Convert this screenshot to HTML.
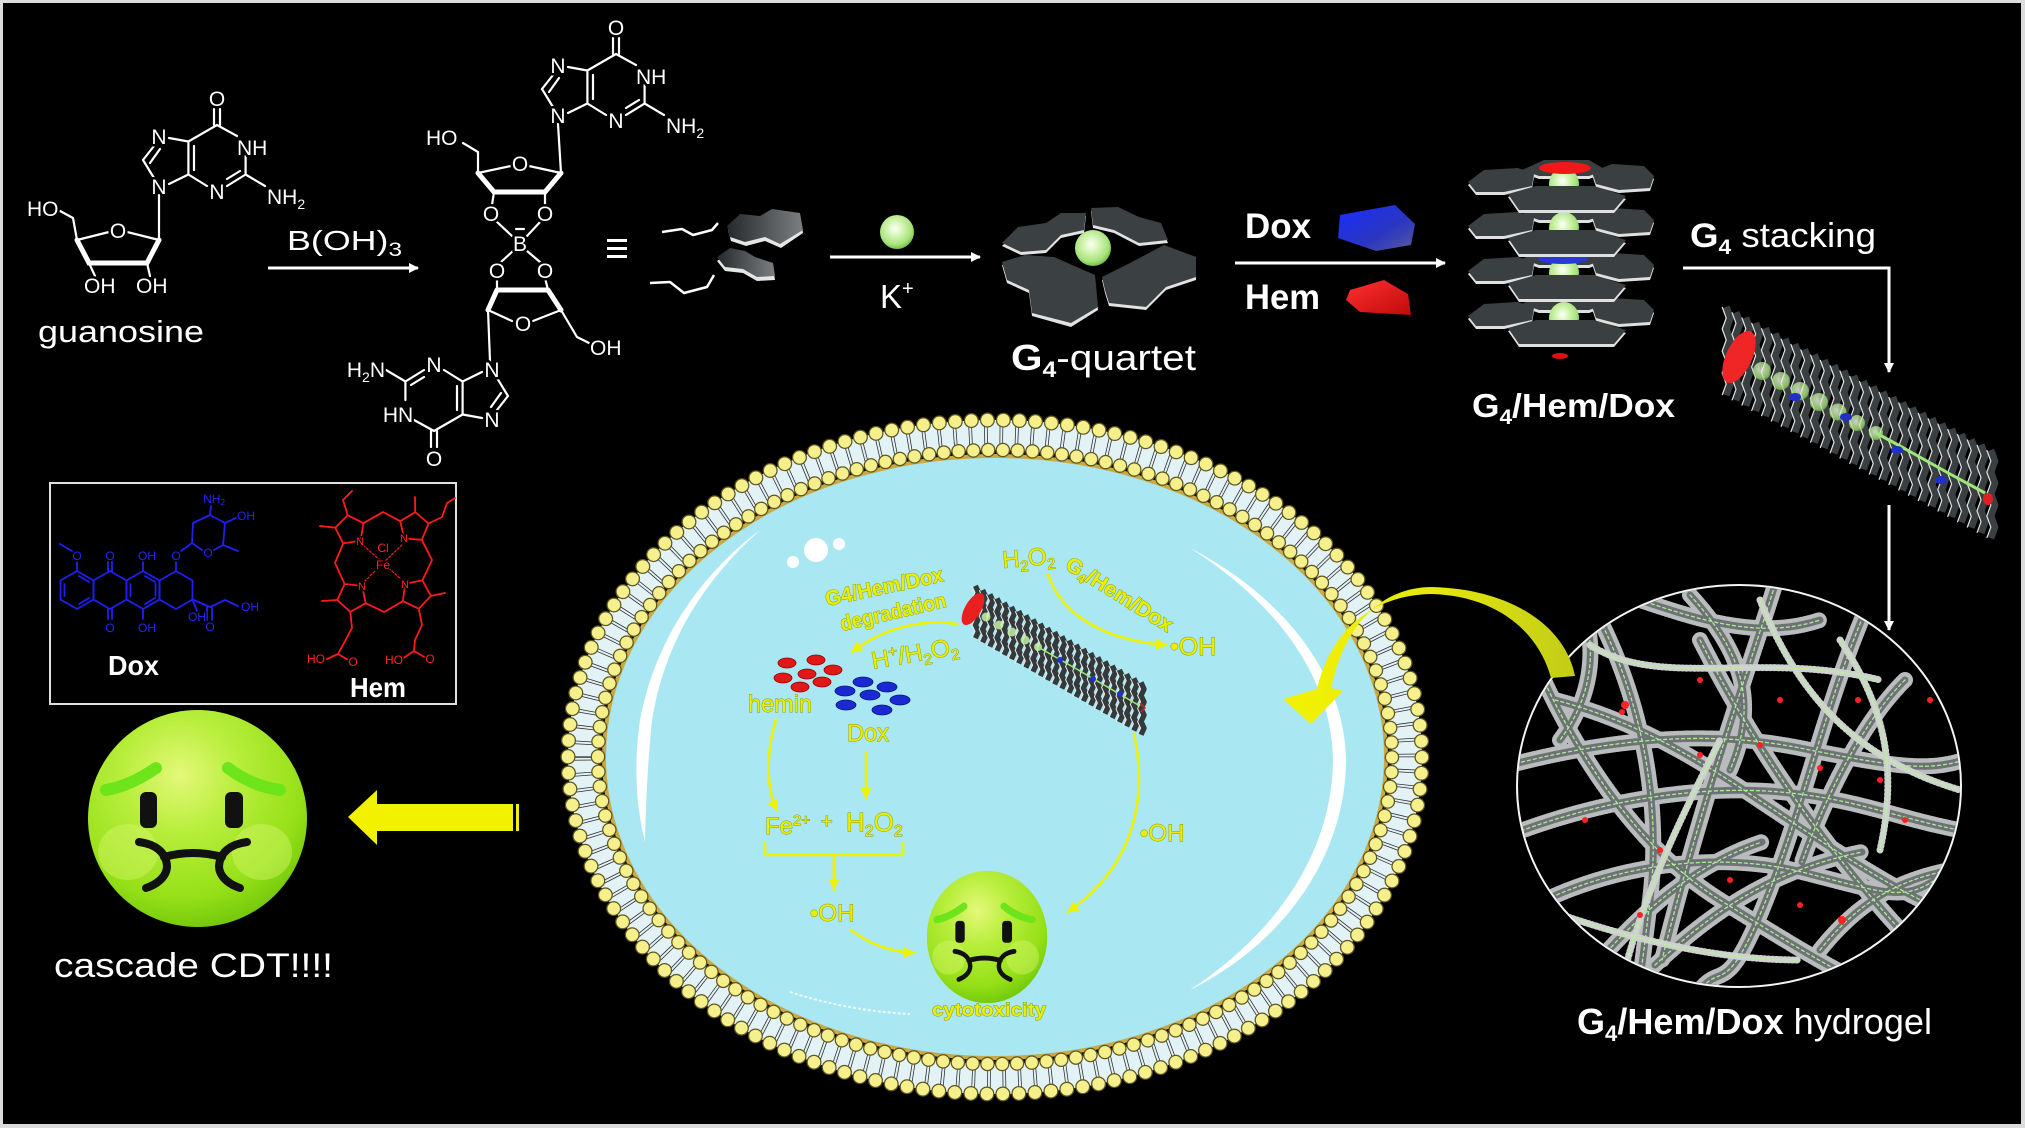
<!DOCTYPE html>
<html><head><meta charset="utf-8"><title>G4/Hem/Dox hydrogel cascade CDT</title>
<style>
html,body{margin:0;padding:0;background:#dcdcdc;overflow:hidden}
svg{display:block}
text{font-family:"Liberation Sans",Arial,sans-serif}
.t{fill:#fff}
.lb{fill:#fff;stroke:#000;stroke-width:5px;paint-order:stroke;stroke-linejoin:round;font-size:21px}
.yt{fill:#e8f000;stroke:#8a9400;stroke-width:0.9px;paint-order:stroke}
.bl{fill:#2424ff;stroke:#000;stroke-width:3px;paint-order:stroke;font-size:12px}
.rl{fill:#ff2020;stroke:#000;stroke-width:3px;paint-order:stroke;font-size:12px}
</style></head><body>
<svg width="2025" height="1128" viewBox="0 0 2025 1128" xmlns="http://www.w3.org/2000/svg" xmlns:xlink="http://www.w3.org/1999/xlink">
<defs>
 <marker id="aw" viewBox="0 0 10 10" refX="9" refY="5" markerWidth="12" markerHeight="10" markerUnits="userSpaceOnUse" orient="auto"><path d="M0,0 L10,5 L0,10 Z" fill="#fff"/></marker>
 <marker id="ay" viewBox="0 0 10 10" refX="9" refY="5" markerWidth="13" markerHeight="11" markerUnits="userSpaceOnUse" orient="auto"><path d="M0,0 L10,5 L0,10 Z" fill="#eef200"/></marker>
 <radialGradient id="gs" cx="0.45" cy="0.4" r="0.6"><stop offset="0" stop-color="#ffffff"/><stop offset="0.3" stop-color="#dcf8c0"/><stop offset="0.8" stop-color="#a6e27a"/><stop offset="1" stop-color="#74c048"/></radialGradient>
 <radialGradient id="fg" cx="0.42" cy="0.3" r="0.75"><stop offset="0" stop-color="#e4f87a"/><stop offset="0.35" stop-color="#b8ee3c"/><stop offset="0.75" stop-color="#96e018"/><stop offset="1" stop-color="#6cc408"/></radialGradient>
 <linearGradient id="hx" x1="0" y1="0" x2="1" y2="0"><stop offset="0" stop-color="#25292b"/><stop offset="1" stop-color="#7b7f81"/></linearGradient>
 <linearGradient id="ya" x1="1290" y1="0" x2="1575" y2="0" gradientUnits="userSpaceOnUse"><stop offset="0" stop-color="#f2f200"/><stop offset="0.5" stop-color="#e4e80c"/><stop offset="1" stop-color="#c2cc18"/></linearGradient>
 <linearGradient id="bg" x1="0" y1="0" x2="1" y2="1"><stop offset="0" stop-color="#1a2cff"/><stop offset="0.6" stop-color="#2a36c0"/><stop offset="1" stop-color="#5a5aa0"/></linearGradient>
 <linearGradient id="rg" x1="0" y1="0" x2="1" y2="1"><stop offset="0" stop-color="#ff3030"/><stop offset="1" stop-color="#c00a0a"/></linearGradient>
 <clipPath id="hc"><ellipse cx="1739" cy="786" rx="221" ry="200"/></clipPath>
 <g id="fib">
  <path d="M1510,765 C1600,742 1700,728 1800,748 S1930,772 1970,758"/>
  <path d="M1540,672 C1580,760 1640,850 1720,900 S1850,980 1890,995"/>
  <path d="M1510,835 C1600,800 1700,785 1780,792 S1900,820 1970,832"/>
  <path d="M1600,620 C1640,700 1662,800 1650,900 S1640,980 1632,1000"/>
  <path d="M1690,595 C1740,650 1760,700 1730,770"/>
  <path d="M1775,585 C1745,680 1702,800 1662,960"/>
  <path d="M1870,600 C1826,700 1806,800 1766,900 S1722,962 1700,990"/>
  <path d="M1905,680 C1862,722 1824,800 1802,862"/>
  <path d="M1535,905 C1620,862 1722,852 1802,872 S1902,902 1935,880"/>
  <path d="M1595,965 C1650,902 1702,862 1762,842"/>
  <path d="M1700,640 C1742,722 1802,822 1902,932"/>
  <path d="M1555,700 C1640,722 1702,762 1762,802 S1882,882 1925,902"/>
  <path d="M1655,965 C1702,922 1762,872 1862,852"/>
  <path d="M1580,600 C1600,650 1590,700 1560,740"/>
  <path d="M1820,950 C1860,900 1900,880 1950,870"/>
  <path d="M1640,600 C1700,620 1760,640 1820,620"/>
 </g>
 <g id="thn">
  <path d="M1590,645 C1660,690 1760,650 1880,680"/>
  <path d="M1620,990 C1640,900 1680,820 1720,740"/>
  <path d="M1760,600 C1800,700 1860,760 1960,790"/>
  <path d="M1520,900 C1600,930 1700,960 1800,960"/>
  <path d="M1840,640 C1880,700 1900,760 1880,850"/>
 </g>
 <g id="lp">
  <path d="M-96,-2 L-80,-14 L-46,-16 L-30,-10 L-32,2 L-60,8 L-88,8 Z"/>
  <path d="M28,-12 L48,-20 L80,-18 L90,-8 L86,4 L55,6 L32,0 Z"/>
  <path d="M-42,-14 L-20,-24 L25,-24 L42,-14 L25,-8 L-25,-8 Z"/>
 </g>
 <path id="fp" d="M-56,10 L-28,2 L30,2 L62,12 L50,26 L-45,26 Z"/>
 <path id="gb" d="M-3,11 V27 M3,11 V27 M0,27 L20,38 M28.6,58 V76.5 M28.6,76.5 L10,88 M23,73 L10,81 M-10,88 L-28.6,76.5 M-28.6,76.5 V43.5 M-23,72 V48 M-28.6,43.5 L0,27 M-28.6,43.5 L-48,40 M-63,48 L-74,62 M-57,51 L-67,65 M-74,62 L-63,80 M-48,86 L-28.6,76.5 M28.6,76.5 L48,88"/>
 <path id="bigpl" d="M1726,307 l4,11-4,11 4,11-4,11 4,11-4,11 4,11-4,11m9.8-82.7 l4,11-4,11 4,11-4,11 4,11-4,11 4,11-4,11m9.8-82.7 l4,11-4,11 4,11-4,11 4,11-4,11 4,11-4,11m9.8-82.7 l4,11-4,11 4,11-4,11 4,11-4,11 4,11-4,11m9.8-82.7 l4,11-4,11 4,11-4,11 4,11-4,11 4,11-4,11m9.8-82.7 l4,11-4,11 4,11-4,11 4,11-4,11 4,11-4,11m9.8-82.7 l4,11-4,11 4,11-4,11 4,11-4,11 4,11-4,11m9.8-82.7 l4,11-4,11 4,11-4,11 4,11-4,11 4,11-4,11m9.8-82.7 l4,11-4,11 4,11-4,11 4,11-4,11 4,11-4,11m9.8-82.7 l4,11-4,11 4,11-4,11 4,11-4,11 4,11-4,11m9.8-82.7 l4,11-4,11 4,11-4,11 4,11-4,11 4,11-4,11m9.8-82.7 l4,11-4,11 4,11-4,11 4,11-4,11 4,11-4,11m9.8-82.7 l4,11-4,11 4,11-4,11 4,11-4,11 4,11-4,11m9.8-82.7 l4,11-4,11 4,11-4,11 4,11-4,11 4,11-4,11m9.8-82.7 l4,11-4,11 4,11-4,11 4,11-4,11 4,11-4,11m9.8-82.7 l4,11-4,11 4,11-4,11 4,11-4,11 4,11-4,11m9.8-82.7 l4,11-4,11 4,11-4,11 4,11-4,11 4,11-4,11m9.8-82.7 l4,11-4,11 4,11-4,11 4,11-4,11 4,11-4,11m9.8-82.7 l4,11-4,11 4,11-4,11 4,11-4,11 4,11-4,11m9.8-82.7 l4,11-4,11 4,11-4,11 4,11-4,11 4,11-4,11m9.8-82.7 l4,11-4,11 4,11-4,11 4,11-4,11 4,11-4,11m9.8-82.7 l4,11-4,11 4,11-4,11 4,11-4,11 4,11-4,11m9.8-82.7 l4,11-4,11 4,11-4,11 4,11-4,11 4,11-4,11m9.8-82.7 l4,11-4,11 4,11-4,11 4,11-4,11 4,11-4,11m9.8-82.7 l4,11-4,11 4,11-4,11 4,11-4,11 4,11-4,11m9.8-82.7 l4,11-4,11 4,11-4,11 4,11-4,11 4,11-4,11m9.8-82.7 l4,11-4,11 4,11-4,11 4,11-4,11 4,11-4,11m9.8-82.7 l4,11-4,11 4,11-4,11 4,11-4,11 4,11-4,11"/>
 <path id="smpl" d="M975,586 l3,6.5-3,6.5 3,6.5-3,6.5 3,6.5-3,6.5 3,6.5-3,6.5m7.2-47.8 l3,6.5-3,6.5 3,6.5-3,6.5 3,6.5-3,6.5 3,6.5-3,6.5m7.2-47.8 l3,6.5-3,6.5 3,6.5-3,6.5 3,6.5-3,6.5 3,6.5-3,6.5m7.2-47.8 l3,6.5-3,6.5 3,6.5-3,6.5 3,6.5-3,6.5 3,6.5-3,6.5m7.2-47.8 l3,6.5-3,6.5 3,6.5-3,6.5 3,6.5-3,6.5 3,6.5-3,6.5m7.2-47.8 l3,6.5-3,6.5 3,6.5-3,6.5 3,6.5-3,6.5 3,6.5-3,6.5m7.2-47.8 l3,6.5-3,6.5 3,6.5-3,6.5 3,6.5-3,6.5 3,6.5-3,6.5m7.2-47.8 l3,6.5-3,6.5 3,6.5-3,6.5 3,6.5-3,6.5 3,6.5-3,6.5m7.2-47.8 l3,6.5-3,6.5 3,6.5-3,6.5 3,6.5-3,6.5 3,6.5-3,6.5m7.2-47.8 l3,6.5-3,6.5 3,6.5-3,6.5 3,6.5-3,6.5 3,6.5-3,6.5m7.2-47.8 l3,6.5-3,6.5 3,6.5-3,6.5 3,6.5-3,6.5 3,6.5-3,6.5m7.2-47.8 l3,6.5-3,6.5 3,6.5-3,6.5 3,6.5-3,6.5 3,6.5-3,6.5m7.2-47.8 l3,6.5-3,6.5 3,6.5-3,6.5 3,6.5-3,6.5 3,6.5-3,6.5m7.2-47.8 l3,6.5-3,6.5 3,6.5-3,6.5 3,6.5-3,6.5 3,6.5-3,6.5m7.2-47.8 l3,6.5-3,6.5 3,6.5-3,6.5 3,6.5-3,6.5 3,6.5-3,6.5m7.2-47.8 l3,6.5-3,6.5 3,6.5-3,6.5 3,6.5-3,6.5 3,6.5-3,6.5m7.2-47.8 l3,6.5-3,6.5 3,6.5-3,6.5 3,6.5-3,6.5 3,6.5-3,6.5m7.2-47.8 l3,6.5-3,6.5 3,6.5-3,6.5 3,6.5-3,6.5 3,6.5-3,6.5m7.2-47.8 l3,6.5-3,6.5 3,6.5-3,6.5 3,6.5-3,6.5 3,6.5-3,6.5m7.2-47.8 l3,6.5-3,6.5 3,6.5-3,6.5 3,6.5-3,6.5 3,6.5-3,6.5m7.2-47.8 l3,6.5-3,6.5 3,6.5-3,6.5 3,6.5-3,6.5 3,6.5-3,6.5m7.2-47.8 l3,6.5-3,6.5 3,6.5-3,6.5 3,6.5-3,6.5 3,6.5-3,6.5m7.2-47.8 l3,6.5-3,6.5 3,6.5-3,6.5 3,6.5-3,6.5 3,6.5-3,6.5m7.2-47.8 l3,6.5-3,6.5 3,6.5-3,6.5 3,6.5-3,6.5 3,6.5-3,6.5"/>
</defs>

<rect x="0" y="0" width="2025" height="1128" fill="#dcdcdc"/>
<rect x="3" y="3" width="2018" height="1121" fill="#000"/>

<!-- ===== guanosine ===== -->
<g stroke="#fff" stroke-width="2.2" fill="none" stroke-linecap="round">
 <use href="#gb" xlink:href="#gb" transform="translate(217,98)"/>
 <path d="M159,195 L159,240 M159,240 L127,232 M109,232 L77,240 M73,218 L77,240 M73,218 L60,211 M89,263 L95,276 M147,263 L150,276"/>
 <path d="M77,240 L89,263 L147,263 L159,240" stroke-width="5"/>
</g>
<g class="lb">
 <g transform="translate(217,98)">
  <text x="0" y="8" text-anchor="middle">O</text>
  <text x="20" y="57">NH</text>
  <text x="0" y="101" text-anchor="middle">N</text>
  <text x="50" y="106">NH<tspan font-size="14" dy="5">2</tspan></text>
  <text x="-58" y="46" text-anchor="middle">N</text>
  <text x="-58" y="96" text-anchor="middle">N</text>
 </g>
 <text x="118" y="238" text-anchor="middle">O</text>
 <text x="27" y="216">HO</text>
 <text x="84" y="293">OH</text>
 <text x="136" y="293">OH</text>
</g>
<text class="t" x="38" y="342" font-size="31" textLength="166" lengthAdjust="spacingAndGlyphs">guanosine</text>

<!-- B(OH)3 arrow -->
<text class="t" x="287" y="250" font-size="28" textLength="115" lengthAdjust="spacingAndGlyphs">B(OH)<tspan font-size="19" dy="6">3</tspan></text>
<line x1="268" y1="268" x2="418" y2="268" stroke="#fff" stroke-width="3" marker-end="url(#aw)"/>

<!-- ===== borate diester ===== -->
<g stroke="#fff" stroke-width="2.2" fill="none" stroke-linecap="round">
 <use href="#gb" xlink:href="#gb" transform="translate(616,27)"/>
 <use href="#gb" xlink:href="#gb" transform="translate(434,458) rotate(180)"/>
 <path d="M558,124 L561,173 M561,173 L529,166 M511,166 L478,173 M478,173 L478,152 L463,143 M494,192 L492,205 M545,192 L545,205 M496,221 L512,236 M541,221 L527,236 M513,251 L501,262 M527,251 L540,262 M497,278 L497,290 M545,278 L548,290 M488,310 L512,321 M533,321 L561,310 M561,310 L577,337 L589,343 M488,310 L490,361 M516,229 L524,229"/>
 <path d="M478,173 L494,192 L545,192 L561,173 M497,290 L548,290 M497,290 L488,310 M548,290 L561,310" stroke-width="5"/>
</g>
<g class="lb">
 <g transform="translate(616,27)">
  <text x="0" y="8" text-anchor="middle">O</text>
  <text x="20" y="57">NH</text>
  <text x="0" y="101" text-anchor="middle">N</text>
  <text x="50" y="106">NH<tspan font-size="14" dy="5">2</tspan></text>
  <text x="-58" y="46" text-anchor="middle">N</text>
  <text x="-58" y="96" text-anchor="middle">N</text>
 </g>
 <text x="520" y="171" text-anchor="middle">O</text>
 <text x="426" y="145">HO</text>
 <text x="491" y="221" text-anchor="middle">O</text>
 <text x="545" y="221" text-anchor="middle">O</text>
 <text x="520" y="251" text-anchor="middle">B</text>
 <text x="497" y="278" text-anchor="middle">O</text>
 <text x="545" y="278" text-anchor="middle">O</text>
 <text x="523" y="331" text-anchor="middle">O</text>
 <text x="590" y="355">OH</text>
 <text x="434" y="466" text-anchor="middle">O</text>
 <text x="398" y="422" text-anchor="middle">HN</text>
 <text x="434" y="372" text-anchor="middle">N</text>
 <text x="385" y="377" text-anchor="end">H<tspan font-size="14" dy="5">2</tspan><tspan dy="-5">N</tspan></text>
 <text x="492" y="427" text-anchor="middle">N</text>
 <text x="492" y="377" text-anchor="middle">N</text>
</g>

<!-- ≡ and guanosine symbols -->
<g fill="#fff"><rect x="607" y="239" width="20" height="3"/><rect x="607" y="247" width="20" height="3"/><rect x="607" y="255" width="20" height="3"/></g>
<g fill="none" stroke="#fff" stroke-width="2.5" stroke-linejoin="round">
 <polyline points="662,232 682,229 693,235 712,230 718,223"/>
 <polyline points="650,283 670,282 684,293 707,287 714,275"/>
</g>
<path d="M728,230 L741,217 L760,218 L773,211 L800,215 L803,233 L781,248 L765,241 L746,246 L731,241 Z" fill="#e6e6e6"/>
<path d="M727,226 L740,214 L760,216 L772,209 L800,213 L803,230 L780,244 L765,237 L745,242 L730,237 Z" fill="url(#hx)"/>
<path d="M717,261 L730,252 L745,255 L755,261 L773,267 L775,280 L757,281 L743,273 L725,271 Z" fill="#e6e6e6"/>
<path d="M717,257 L730,248 L745,251 L755,257 L773,263 L775,276 L757,277 L743,269 L725,267 Z" fill="url(#hx)"/>

<!-- K+ -->
<ellipse cx="897" cy="232" rx="17" ry="17" fill="url(#gs)"/>
<line x1="830" y1="257" x2="980" y2="257" stroke="#fff" stroke-width="3" marker-end="url(#aw)"/>
<text class="t" x="880" y="308" font-size="33">K<tspan font-size="20" dy="-13">+</tspan></text>

<!-- ===== G4 quartet ===== -->
<g fill="#e2e2e2">
 <path d="M1002,246 L1018,230 L1046,226 L1061,216 L1086,216 L1084,233 L1061,238 L1046,253 L1021,255 Z"/>
 <path d="M1091,211 L1118,210 L1139,220 L1161,226 L1168,243 L1139,246 L1114,233 L1093,228 Z"/>
 <path d="M1002,265 L1025,258 L1054,260 L1095,278 L1098,310 L1071,327 L1032,316 L1029,293 L1007,283 Z"/>
 <path d="M1102,280 L1130,266 L1164,248 L1196,260 L1196,280 L1166,290 L1146,310 L1109,306 L1105,293 Z"/>
</g>
<g fill="#3b4143">
 <path d="M1002,243 L1018,227 L1046,223 L1061,213 L1086,213 L1084,230 L1061,235 L1046,250 L1021,252 Z"/>
 <path d="M1091,208 L1118,207 L1139,217 L1161,223 L1168,240 L1139,243 L1114,230 L1093,225 Z"/>
 <path d="M1002,262 L1025,255 L1054,257 L1095,275 L1098,307 L1071,323 L1032,313 L1029,290 L1007,280 Z"/>
 <path d="M1102,277 L1130,263 L1164,245 L1196,257 L1196,277 L1166,287 L1146,307 L1109,303 L1105,290 Z"/>
</g>
<ellipse cx="1093" cy="248" rx="18" ry="18" fill="url(#gs)"/>
<text class="t" x="1011" y="370" font-size="36" textLength="185" lengthAdjust="spacingAndGlyphs"><tspan font-weight="bold">G</tspan><tspan font-weight="bold" font-size="22" dy="7">4</tspan><tspan dy="-7">-quartet</tspan></text>

<!-- Dox / Hem arrow -->
<text class="t" x="1245" y="238" font-size="35" font-weight="bold" textLength="66" lengthAdjust="spacingAndGlyphs">Dox</text>
<path d="M1340,215 L1395,205 L1415,224 L1411,245 L1376,251 L1338,238 Z" fill="url(#bg)"/>
<line x1="1235" y1="263" x2="1445" y2="263" stroke="#fff" stroke-width="3" marker-end="url(#aw)"/>
<text class="t" x="1245" y="309" font-size="35" font-weight="bold" textLength="75" lengthAdjust="spacingAndGlyphs">Hem</text>
<path d="M1350,290 L1384,280 L1408,294 L1411,315 L1360,312 L1346,300 Z" fill="url(#rg)"/>

<!-- ===== G4/Hem/Dox stack ===== -->
<g transform="translate(1564,318)"><use href="#lp" xlink:href="#lp" y="3" fill="#e0e0e0"/><use href="#lp" xlink:href="#lp" fill="#3a4042"/><ellipse cx="0" cy="0" rx="15" ry="16" fill="url(#gs)"/><use href="#fp" xlink:href="#fp" y="3" fill="#e0e0e0"/><use href="#fp" xlink:href="#fp" fill="#3a4042"/></g>
<ellipse cx="1560" cy="356" rx="8" ry="3" fill="#e01010"/>
<g transform="translate(1564,273)"><use href="#lp" xlink:href="#lp" y="3" fill="#e0e0e0"/><use href="#lp" xlink:href="#lp" fill="#3a4042"/><ellipse cx="0" cy="0" rx="15" ry="16" fill="url(#gs)"/><ellipse cx="-1" cy="-14" rx="25" ry="5" fill="#2a38d8"/><use href="#fp" xlink:href="#fp" y="3" fill="#e0e0e0"/><use href="#fp" xlink:href="#fp" fill="#3a4042"/></g>
<g transform="translate(1564,228)"><use href="#lp" xlink:href="#lp" y="3" fill="#e0e0e0"/><use href="#lp" xlink:href="#lp" fill="#3a4042"/><ellipse cx="0" cy="0" rx="15" ry="16" fill="url(#gs)"/><use href="#fp" xlink:href="#fp" y="3" fill="#e0e0e0"/><use href="#fp" xlink:href="#fp" fill="#3a4042"/></g>
<g transform="translate(1564,184)"><use href="#lp" xlink:href="#lp" y="3" fill="#e0e0e0"/><use href="#lp" xlink:href="#lp" fill="#3a4042"/><ellipse cx="0" cy="0" rx="15" ry="16" fill="url(#gs)"/><use href="#fp" xlink:href="#fp" y="3" fill="#e0e0e0"/><use href="#fp" xlink:href="#fp" fill="#3a4042"/></g>
<ellipse cx="1565" cy="168" rx="26" ry="6" fill="#f01818"/>
<text class="t" x="1472" y="417" font-size="33" font-weight="bold" textLength="203" lengthAdjust="spacingAndGlyphs">G<tspan font-size="21" dy="7">4</tspan><tspan dy="-7">/Hem/Dox</tspan></text>

<!-- G4 stacking -->
<text class="t" x="1690" y="247" font-size="34" textLength="186" lengthAdjust="spacingAndGlyphs"><tspan font-weight="bold">G</tspan><tspan font-weight="bold" font-size="21" dy="7">4</tspan><tspan dy="-7"> stacking</tspan></text>
<polyline points="1683,268 1889,268 1889,372" fill="none" stroke="#fff" stroke-width="3" marker-end="url(#aw)"/>

<!-- big fiber -->
<g fill="none" stroke-linejoin="round">
 <use href="#bigpl" xlink:href="#bigpl" stroke="#3a4042" stroke-width="7.5"/>
 <use href="#bigpl" xlink:href="#bigpl" x="-3.8" stroke="#e4e4e4" stroke-width="1.2"/>
</g>
<g fill="url(#gs)" opacity="0.75">
 <circle cx="1762" cy="371" r="9"/><circle cx="1781" cy="381" r="9"/><circle cx="1800" cy="391" r="9"/><circle cx="1819" cy="402" r="9"/><circle cx="1838" cy="412" r="8.5"/><circle cx="1857" cy="423" r="8"/><circle cx="1876" cy="433" r="7"/>
</g>
<polyline points="1876,433 1900,446 1925,460 1950,474 1985,493" fill="none" stroke="#9ee878" stroke-width="3"/>
<g fill="#2030c8"><ellipse cx="1795" cy="397" rx="6" ry="4"/><ellipse cx="1846" cy="417" rx="6" ry="4"/><ellipse cx="1897" cy="450" rx="6" ry="4"/><ellipse cx="1941" cy="480" rx="6" ry="4"/></g>
<ellipse cx="1988" cy="499" rx="5" ry="6" fill="#e02020"/>
<ellipse cx="1739" cy="357" rx="13" ry="28" transform="rotate(25 1739 357)" fill="#f02626"/>

<!-- down arrow to hydrogel -->
<line x1="1889" y1="505" x2="1889" y2="630" stroke="#fff" stroke-width="3" marker-end="url(#aw)"/>

<!-- ===== hydrogel ===== -->
<g clip-path="url(#hc)" fill="none" stroke-linecap="round">
 <use href="#fib" xlink:href="#fib" stroke="#b9bcbd" stroke-width="16" stroke-dasharray="1 2.2"/>
 <use href="#fib" xlink:href="#fib" stroke="#6f7274" stroke-width="7"/>
 <use href="#fib" xlink:href="#fib" stroke="#a6ee98" stroke-width="1.3" stroke-dasharray="3 3"/>
 <use href="#thn" xlink:href="#thn" stroke="#d0d0d0" stroke-width="7" stroke-dasharray="1 3"/>
 <use href="#thn" xlink:href="#thn" stroke="#b6f0a0" stroke-width="1.5" stroke-dasharray="3 2"/>
 <g fill="#ff2020" stroke="none">
  <circle cx="1622" cy="712" r="3"/><circle cx="1700" cy="755" r="3"/><circle cx="1760" cy="745" r="3"/><circle cx="1820" cy="768" r="3"/><circle cx="1858" cy="700" r="3"/><circle cx="1905" cy="820" r="3"/><circle cx="1660" cy="850" r="3"/><circle cx="1730" cy="880" r="3"/><circle cx="1800" cy="905" r="3"/><circle cx="1842" cy="920" r="4"/><circle cx="1585" cy="820" r="3"/><circle cx="1640" cy="915" r="3"/><circle cx="1780" cy="700" r="3"/><circle cx="1930" cy="700" r="3"/><circle cx="1700" cy="680" r="3"/><circle cx="1625" cy="705" r="4"/><circle cx="1880" cy="780" r="3"/>
 </g>
</g>
<ellipse cx="1739" cy="786" rx="222" ry="201" fill="none" stroke="#f4f4f4" stroke-width="2"/>
<text class="t" x="1577" y="1034" font-size="36" textLength="355" lengthAdjust="spacingAndGlyphs"><tspan font-weight="bold">G</tspan><tspan font-weight="bold" font-size="22" dy="7">4</tspan><tspan font-weight="bold" dy="-7">/Hem/Dox</tspan> hydrogel</text>

<!-- ===== Dox / Hem box ===== -->
<rect x="50" y="483" width="406" height="221" fill="none" stroke="#e0e0e0" stroke-width="2"/>
<g stroke="#1f1ff5" stroke-width="1.8" fill="none" stroke-linecap="round" stroke-linejoin="round">
 <polygon points="77,571 93.5,580.5 93.5,599.5 77,609 60.5,599.5 60.5,580.5"/>
 <polygon points="110,571 126.5,580.5 126.5,599.5 110,609 93.5,599.5 93.5,580.5"/>
 <polygon points="143,571 159.5,580.5 159.5,599.5 143,609 126.5,599.5 126.5,580.5"/>
 <polygon points="176,571 192.5,580.5 192.5,599.5 176,609 159.5,599.5 159.5,580.5"/>
 <path d="M64.5,584 V596 M79,576 L89,582 M79,604 L89,598 M130.5,584 V596 M155.5,584 V596 M145,576 L155,582 M145,604 L155,598"/>
 <path d="M77,571 V561 M72,551 L60,544 M108,571 V561 M112,571 V561 M108,609 V619 M112,609 V619 M143,571 V561 M143,609 V619 M176,571 V561 M181,551 L192,543"/>
 <path d="M192,543 L193,523 L210,515 L225,523 L223,545 L214,550 M202,550 L192,543 M210,515 L211,506 M225,523 L236,518 M223,545 L238,551"/>
 <path d="M192.5,599.5 L197,611 M192.5,599.5 L210,607 L225,600 L238,606 M207,607 V620 M212,607 V620"/>
</g>
<g class="bl">
 <text x="77" y="560" text-anchor="middle">O</text>
 <text x="110" y="560" text-anchor="middle">O</text>
 <text x="110" y="632" text-anchor="middle">O</text>
 <text x="147" y="560" text-anchor="middle">OH</text>
 <text x="147" y="632" text-anchor="middle">OH</text>
 <text x="176" y="560" text-anchor="middle">O</text>
 <text x="208" y="557" text-anchor="middle">O</text>
 <text x="214" y="503" text-anchor="middle">NH<tspan font-size="8" dy="2">2</tspan></text>
 <text x="246" y="520" text-anchor="middle">OH</text>
 <text x="197" y="621" text-anchor="middle">OH</text>
 <text x="210" y="631" text-anchor="middle">O</text>
 <text x="250" y="611" text-anchor="middle">OH</text>
</g>
<g stroke="#ff1a1a" stroke-width="1.8" fill="none" stroke-linecap="round" stroke-linejoin="round">
 <polygon points="360.6,540.6 343.2,543.4 335.2,527.7 347.7,515.2 363.4,523.2"/>
 <polygon points="404.2,538.4 400.2,521.2 415.2,512.1 428.6,523.5 421.8,539.8"/>
 <polygon points="362.1,585.9 365.7,603.2 350.3,611.9 337.3,600 344.6,584"/>
 <polygon points="405.1,583.7 422.4,580.4 430.9,595.9 418.8,608.7 402.9,601.2"/>
 <path d="M363.4,523.2 L383,512 L400.2,521.2 M343.2,543.4 L335,563 L344.6,584 M421.8,539.8 L432,560 L422.4,580.4 M365.7,603.2 L384,612 L402.9,601.2"/>
 <path d="M347.7,515.2 L343,500 L352,491 M335.2,527.7 L320,526 M415.2,512.1 L415,497 M428.6,523.5 L442,517 L447,503 L455,498 M430.9,595.9 L445,593 M337.3,600 L322,601 M350.3,611.9 L352,628 L344,643 L338,654 M338,654 L327,659 M338,654 L350,661 M418.8,608.7 L422,625 L415,640 L414,651 M414,651 L402,659 M414,651 L426,658"/>
 <path d="M383,563 L363,545 M383,563 L402,545 M383,563 L364,582 M383,563 L402,580" stroke-dasharray="2 2" stroke-width="1.2"/>
</g>
<g class="rl">
 <text x="383" y="552" text-anchor="middle">Cl</text>
 <text x="383" y="569" text-anchor="middle">Fe</text>
 <text x="360" y="545" text-anchor="middle" font-size="11">N</text>
 <text x="404" y="542" text-anchor="middle" font-size="11">N</text>
 <text x="362" y="590" text-anchor="middle" font-size="11">N</text>
 <text x="405" y="588" text-anchor="middle" font-size="11">N</text>
 <text x="316" y="663" text-anchor="middle">HO</text>
 <text x="353" y="666" text-anchor="middle">O</text>
 <text x="394" y="664" text-anchor="middle">HO</text>
 <text x="430" y="663" text-anchor="middle">O</text>
</g>
<text class="t" x="108" y="675" font-size="28" font-weight="bold" textLength="51" lengthAdjust="spacingAndGlyphs">Dox</text>
<text class="t" x="350" y="697" font-size="28" font-weight="bold" textLength="56" lengthAdjust="spacingAndGlyphs">Hem</text>

<!-- ===== big face ===== -->
<g id="face">
 <ellipse cx="197.5" cy="818.5" rx="109.5" ry="108.5" fill="url(#fg)"/>
 <ellipse cx="128" cy="852" rx="30" ry="28" fill="#d4f66a" opacity="0.45"/>
 <ellipse cx="262" cy="852" rx="30" ry="28" fill="#d4f66a" opacity="0.45"/>
 <path d="M106,790 Q130,786 156,768 M228,768 Q252,786 280,790" fill="none" stroke="#6ee41a" stroke-width="12" stroke-linecap="round"/>
 <rect x="140" y="792" width="17" height="36" rx="6" fill="#111"/>
 <rect x="225" y="792" width="18" height="36" rx="6" fill="#111"/>
 <g fill="none" stroke="#111" stroke-width="8" stroke-linecap="round">
  <path d="M139,842 C155,844 166,852 167,866 C167,876 158,884 146,888"/>
  <path d="M247,842 C231,844 220,852 219,866 C219,876 228,884 240,888"/>
  <path d="M164,857 Q193,849 222,857"/>
 </g>
</g>

<!-- yellow left arrow -->
<polygon points="348,817 377,790 377,804 513,804 513,831 377,831 377,845" fill="#f2f200"/>
<rect x="516" y="804" width="3" height="27" fill="#f2f200"/>
<text x="54" y="977" font-family="'DejaVu Sans',sans-serif" font-size="34" fill="#fff" textLength="279" lengthAdjust="spacingAndGlyphs">cascade CDT!!!!</text>

<!-- ===== cell ===== -->
<path d="M583,757 a412,322 0 1,0 824,0 a412,322 0 1,0 -824,0 Z" fill="none" stroke="#e2f2f5" stroke-width="30"/>
<path d="M583,757 a412,322 0 1,0 824,0 a412,322 0 1,0 -824,0 Z" pathLength="150" fill="none" stroke="#2c2c2c" stroke-width="22" stroke-dasharray="0.05 0.13 0.05 0.77"/>
<ellipse cx="995" cy="757" rx="391" ry="301" fill="#a9e8f2" stroke="#c8aa48" stroke-width="4"/>
<path d="M598,757 a397,307 0 1,0 794,0 a397,307 0 1,0 -794,0 Z" pathLength="150" fill="none" stroke="#5e5520" stroke-width="14.5" stroke-linecap="round" stroke-dasharray="0 1"/>
<path d="M598,757 a397,307 0 1,0 794,0 a397,307 0 1,0 -794,0 Z" pathLength="150" fill="none" stroke="#f6f08c" stroke-width="12" stroke-linecap="round" stroke-dasharray="0 1"/>
<path d="M568,757 a427,337 0 1,0 854,0 a427,337 0 1,0 -854,0 Z" pathLength="150" fill="none" stroke="#5e5520" stroke-width="15" stroke-linecap="round" stroke-dasharray="0 1"/>
<path d="M568,757 a427,337 0 1,0 854,0 a427,337 0 1,0 -854,0 Z" pathLength="150" fill="none" stroke="#f6f08c" stroke-width="12.5" stroke-linecap="round" stroke-dasharray="0 1"/>

<!-- highlights -->
<path d="M760,530 C700,575 655,640 640,720 C633,770 637,810 645,842 C646,805 647,770 652,720 C665,640 705,580 760,530 Z" fill="#ffffff"/>
<path d="M1190,548 C1290,600 1345,680 1346,760 C1346,850 1290,940 1190,990 C1280,930 1332,850 1333,760 C1332,680 1280,605 1190,548 Z" fill="#ffffff"/>
<path d="M790,992 C830,1005 870,1012 910,1014" fill="none" stroke="#fff" stroke-width="2" stroke-dasharray="3 2" opacity="0.8"/>
<circle cx="816" cy="550" r="12" fill="#fff"/><circle cx="839" cy="544" r="6" fill="#fff"/><circle cx="793" cy="562" r="6" fill="#fff"/>

<!-- cell fiber -->
<g fill="none" stroke-linejoin="round">
 <use href="#smpl" xlink:href="#smpl" stroke="#343a3c" stroke-width="6.2"/>
 <use href="#smpl" xlink:href="#smpl" x="-3" stroke="#f0f0f0" stroke-width="1"/>
</g>
<g fill="#c6f0a4" opacity="0.85"><circle cx="986" cy="617" r="4.5"/><circle cx="999" cy="625" r="4.5"/><circle cx="1012" cy="632" r="4.5"/><circle cx="1025" cy="640" r="4.5"/><circle cx="1038" cy="647" r="4"/></g>
<polyline points="1038,647 1080,671 1140,706" fill="none" stroke="#9ee878" stroke-width="1.5"/>
<g fill="#2030c8"><circle cx="1060" cy="660" r="3"/><circle cx="1093" cy="679" r="3"/><circle cx="1120" cy="694" r="3"/></g>
<path d="M1140,703 l5,5 -4,4" fill="none" stroke="#e02020" stroke-width="1.5"/>
<ellipse cx="973" cy="609" rx="8" ry="18" transform="rotate(30 973 609)" fill="#e82020"/>

<!-- hemin & Dox blobs -->
<g fill="#e01818" stroke="#900" stroke-width="0.8">
 <ellipse cx="787" cy="663" rx="9" ry="5"/><ellipse cx="816" cy="660" rx="9" ry="5"/><ellipse cx="833" cy="670" rx="9" ry="5"/><ellipse cx="783" cy="678" rx="9" ry="5"/><ellipse cx="807" cy="674" rx="9" ry="5"/><ellipse cx="822" cy="682" rx="9" ry="5"/><ellipse cx="800" cy="687" rx="9" ry="5"/>
</g>
<g fill="#1a2ad0" stroke="#0a1480" stroke-width="0.8">
 <ellipse cx="863" cy="682" rx="10" ry="5"/><ellipse cx="887" cy="687" rx="10" ry="5"/><ellipse cx="845" cy="691" rx="10" ry="5"/><ellipse cx="870" cy="695" rx="10" ry="5"/><ellipse cx="900" cy="700" rx="10" ry="5"/><ellipse cx="846" cy="705" rx="10" ry="5"/><ellipse cx="882" cy="710" rx="10" ry="5"/>
</g>

<!-- cell arrows -->
<g fill="none" stroke="#eef200" stroke-width="2.6" stroke-linecap="round">
 <path d="M1048,574 C1060,612 1100,640 1166,645" marker-end="url(#ay)"/>
 <path d="M957,624 C920,618 880,630 852,652" marker-end="url(#ay)"/>
 <path d="M776,720 C766,750 766,790 777,810" marker-end="url(#ay)"/>
 <path d="M866,753 L866,798" marker-end="url(#ay)"/>
 <path d="M765,843 V855 H903 V843 M834,855 V890" />
 <path d="M834,860 L834,889" marker-end="url(#ay)"/>
 <path d="M851,930 C870,945 893,952 914,953" marker-end="url(#ay)"/>
 <path d="M1134,734 C1146,790 1140,862 1068,912" marker-end="url(#ay)"/>
</g>

<!-- cell texts -->
<g class="yt">
 <text transform="translate(1003,568) rotate(-5)" font-size="24">H<tspan font-size="15" dy="5">2</tspan><tspan dy="-5">O</tspan><tspan font-size="15" dy="5">2</tspan></text>
 <text transform="translate(1064,568) rotate(32)" font-size="21" font-weight="bold" textLength="122" lengthAdjust="spacingAndGlyphs">G<tspan font-size="13" dy="4">4</tspan><tspan dy="-4">/Hem/Dox</tspan></text>
 <text x="1170" y="655" font-size="25">•OH</text>
 <text transform="translate(827,606) rotate(-12)" font-size="21" font-weight="bold" textLength="120" lengthAdjust="spacingAndGlyphs">G4/Hem/Dox</text>
 <text transform="translate(842,631) rotate(-13)" font-size="21" font-weight="bold" textLength="108" lengthAdjust="spacingAndGlyphs">degradation</text>
 <text transform="translate(873,669) rotate(-10)" font-size="24" textLength="88" lengthAdjust="spacingAndGlyphs">H<tspan font-size="15" dy="-9">+</tspan><tspan dy="9">/H</tspan><tspan font-size="15" dy="5">2</tspan><tspan dy="-5">O</tspan><tspan font-size="15" dy="5">2</tspan></text>
 <text x="748" y="712" font-size="24" textLength="64" lengthAdjust="spacingAndGlyphs">hemin</text>
 <text x="847" y="741" font-size="24" textLength="42" lengthAdjust="spacingAndGlyphs">Dox</text>
 <text x="765" y="834" font-size="24">Fe<tspan font-size="15" dy="-9">2+</tspan></text>
 <text x="821" y="828" font-size="20">+</text>
 <text x="846" y="831" font-size="26">H<tspan font-size="16" dy="5">2</tspan><tspan dy="-5">O</tspan><tspan font-size="16" dy="5">2</tspan></text>
 <text x="810" y="921" font-size="24">•OH</text>
 <text x="1140" y="841" font-size="24">•OH</text>
 <text x="932" y="1016" font-size="18" font-weight="bold" textLength="114" lengthAdjust="spacingAndGlyphs">cytotoxicity</text>
</g>

<!-- small face -->
<g transform="translate(987,937) scale(0.55,0.61) translate(-197.5,-818.5)">
 <ellipse cx="197.5" cy="818.5" rx="109.5" ry="108.5" fill="url(#fg)"/>
 <ellipse cx="128" cy="852" rx="30" ry="28" fill="#d4f66a" opacity="0.45"/>
 <ellipse cx="262" cy="852" rx="30" ry="28" fill="#d4f66a" opacity="0.45"/>
 <path d="M106,790 Q130,786 156,768 M228,768 Q252,786 280,790" fill="none" stroke="#6ee41a" stroke-width="12" stroke-linecap="round"/>
 <rect x="140" y="792" width="17" height="36" rx="6" fill="#111"/>
 <rect x="225" y="792" width="18" height="36" rx="6" fill="#111"/>
 <g fill="none" stroke="#111" stroke-width="8" stroke-linecap="round">
  <path d="M139,842 C155,844 166,852 167,866 C167,876 158,884 146,888"/>
  <path d="M247,842 C231,844 220,852 219,866 C219,876 228,884 240,888"/>
  <path d="M164,857 Q193,849 222,857"/>
 </g>
</g>

<!-- curved yellow arrow from hydrogel into cell -->
<path d="M1575,676 C1565,625 1510,589 1432,587 C1385,587 1346,620 1331,688 L1343,691 L1311,724 L1283,699 L1317,689 C1331,630 1372,595 1432,594 C1495,596 1538,630 1551,678 Z" fill="url(#ya)"/>
</svg>
</body></html>
